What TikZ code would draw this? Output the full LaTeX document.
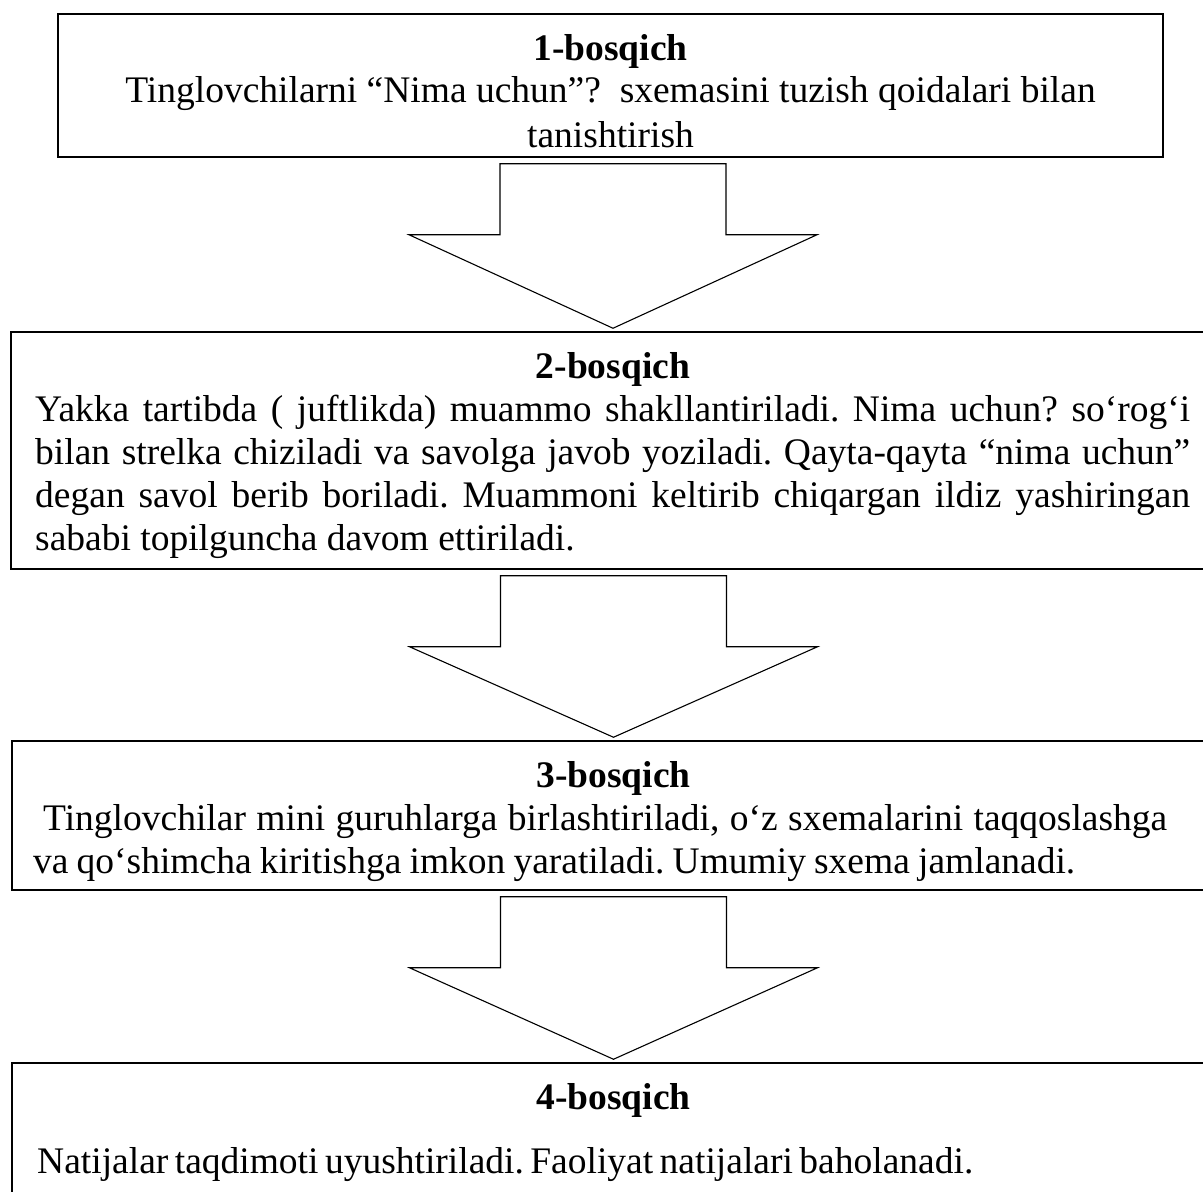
\documentclass[tikz,border=0pt]{standalone}
\usepackage{fontspec}
\setmainfont{Liberation Serif}
\usetikzlibrary{calc}
\frenchspacing

% one justified line of a given width
\newcommand{\spreadline}[2]{\makebox[#1][s]{#2}}

% block arrow from one stage box down to the next
\newcommand{\stagearrow}[2]{%
  \draw[arrowbody] let \p1=(#1.south), \p2=(#2.north) in
    (\x2-113pt,\y1-6pt) -- (\x2+113pt,\y1-6pt) -- (\x2+113pt,\y1-77pt)
    -- (\x2+204pt,\y1-77pt) -- (\x2,\y2+3pt) -- (\x2-204pt,\y1-77pt)
    -- (\x2-113pt,\y1-77pt) -- cycle;}

\begin{document}
\begin{tikzpicture}[x=1pt, y=1pt,
  stagebox/.style={draw, line width=1.5pt, inner sep=0pt},
  arrowbody/.style={draw, line width=1.1pt, line join=miter},
  txt/.style={inner sep=0pt, font=\fontsize{37.5pt}{43pt}\selectfont},
  ttl/.style={inner sep=0pt, font=\fontsize{37.5pt}{43pt}\selectfont\bfseries}]

\useasboundingbox (0,0) rectangle (1203,-1192);
\clip (0,0) rectangle (1203,-1192);

% Draw boxes
\node[stagebox, minimum width=1105pt, minimum height=143pt] (b1) at (610.5,-85.5) {};
\node[stagebox, minimum width=1204pt, minimum height=237pt] (b2) at (613,-450.5) {};
\node[stagebox, minimum width=1203pt, minimum height=149pt] (b3) at (613.5,-815.5) {};
\node[stagebox, minimum width=1203pt, minimum height=147pt] (b4) at (613.5,-1136.5) {};

% Stage 1
\node[ttl, anchor=base] (h1) at (610.5,-60) {1-bosqich};
\node[txt, anchor=base] (s1a) at (610.5,-102) {Tinglovchilarni “Nima uchun”?\ \ sxemasini tuzish qoidalari bilan};
\node[txt, anchor=base] (s1b) at (610.5,-147) {tanishtirish};

% Stage 2
\node[ttl, anchor=base] (h2) at (613,-378) {2-bosqich};
\node[txt, anchor=base west] (s2a) at (35,-421) {\spreadline{1155pt}{Yakka tartibda ( juftlikda) muammo shakllantiriladi. Nima uchun? so‘rog‘i}};
\node[txt, anchor=base west] (s2b) at (35,-464) {\spreadline{1155pt}{bilan strelka chiziladi va savolga javob yoziladi. Qayta-qayta “nima uchun”}};
\node[txt, anchor=base west] (s2c) at (35,-507) {\spreadline{1155pt}{degan savol berib boriladi. Muammoni keltirib chiqargan ildiz yashiringan}};
\node[txt, anchor=base west] (s2d) at (35,-550) {sababi topilguncha davom ettiriladi.};

% Stage 3
\node[ttl, anchor=base] (h3) at (613.5,-787) {3-bosqich};
\node[txt, anchor=base west] (s3a) at (43,-830) {\spreadline{1124pt}{Tinglovchilar mini guruhlarga birlashtiriladi, o‘z sxemalarini taqqoslashga}};
\node[txt, anchor=base west] (s3b) at (33,-873) {\spreadline{1042pt}{va qo‘shimcha kiritishga imkon yaratiladi. Umumiy sxema jamlanadi.}};

% Stage 4
\node[ttl, anchor=base] (h4) at (613.5,-1109) {4-bosqich};
\node[txt, anchor=base west] (s4a) at (37,-1173) {\spreadline{936pt}{Natijalar taqdimoti uyushtiriladi. Faoliyat natijalari baholanadi.}};

% Draw arrows
\stagearrow{b1}{b2}
\stagearrow{b2}{b3}
\stagearrow{b3}{b4}

\end{tikzpicture}
\end{document}
